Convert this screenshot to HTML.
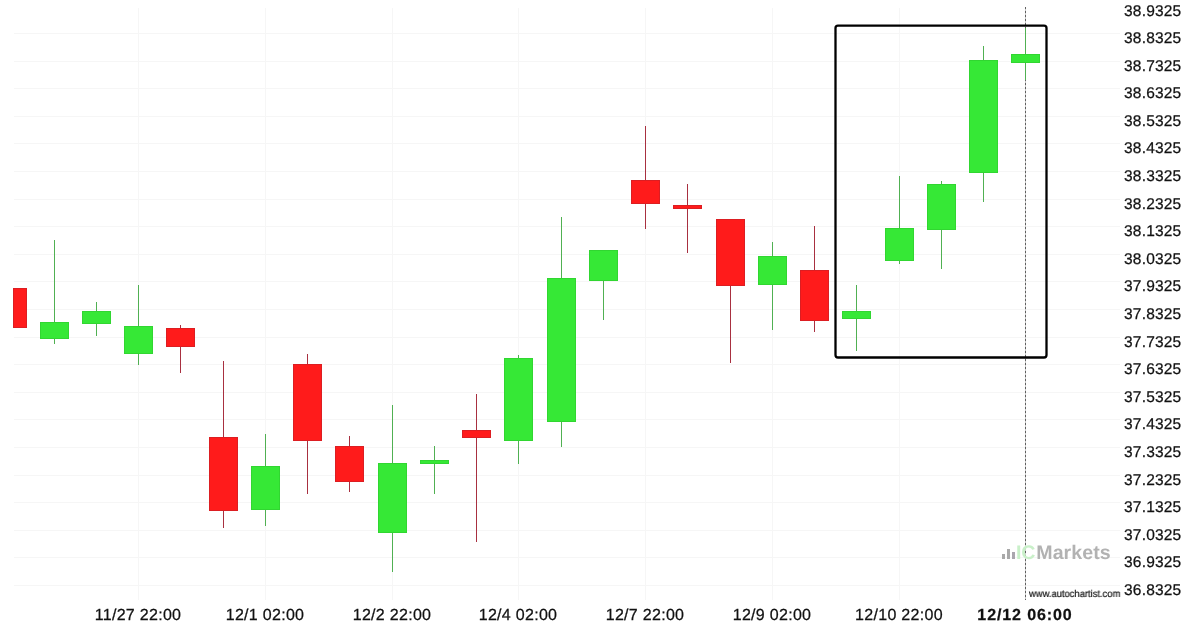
<!DOCTYPE html>
<html><head><meta charset="utf-8"><style>
html,body{margin:0;padding:0;background:#fff;}
body{width:1200px;height:630px;position:relative;overflow:hidden;font-family:"Liberation Sans",sans-serif;color:#111;text-rendering:geometricPrecision;}
svg{position:absolute;left:0;top:0;}
.ya{position:absolute;left:1123.6px;font-size:15.5px;line-height:15.5px;letter-spacing:0.2px;will-change:transform;-webkit-text-stroke:0.25px #111;white-space:nowrap;}
.xa{position:absolute;font-size:16px;line-height:16px;letter-spacing:0.3px;will-change:transform;-webkit-text-stroke:0.25px #111;white-space:nowrap;transform:translateX(-50%);}
.xb{font-weight:bold;letter-spacing:0.9px;}
.wm{position:absolute;left:1029.3px;top:590px;font-size:10px;line-height:10px;color:#111;-webkit-text-stroke:0.2px #111;white-space:nowrap;transform-origin:0 0;transform:scaleX(0.94);will-change:transform;}
.logo{position:absolute;left:1015.6px;top:542.5px;font-size:19.6px;line-height:20px;font-weight:bold;white-space:nowrap;letter-spacing:-0.3px;will-change:transform;}
.logo .mk{margin-left:1.3px;letter-spacing:0.05px;}
.logo .ic{color:#c9f0c9;}
.logo .mk{color:#b2b2b2;}
</style></head><body>

<svg width="1200" height="630" viewBox="0 0 1200 630" shape-rendering="crispEdges">
<rect x="14" y="33" width="1106" height="1" fill="#f6f6f6"/>
<rect x="14" y="61" width="1106" height="1" fill="#f6f6f6"/>
<rect x="14" y="88" width="1106" height="1" fill="#f6f6f6"/>
<rect x="14" y="116" width="1106" height="1" fill="#f6f6f6"/>
<rect x="14" y="143" width="1106" height="1" fill="#f6f6f6"/>
<rect x="14" y="171" width="1106" height="1" fill="#f6f6f6"/>
<rect x="14" y="199" width="1106" height="1" fill="#f6f6f6"/>
<rect x="14" y="226" width="1106" height="1" fill="#f6f6f6"/>
<rect x="14" y="254" width="1106" height="1" fill="#f6f6f6"/>
<rect x="14" y="281" width="1106" height="1" fill="#f6f6f6"/>
<rect x="14" y="309" width="1106" height="1" fill="#f6f6f6"/>
<rect x="14" y="337" width="1106" height="1" fill="#f6f6f6"/>
<rect x="14" y="364" width="1106" height="1" fill="#f6f6f6"/>
<rect x="14" y="392" width="1106" height="1" fill="#f6f6f6"/>
<rect x="14" y="419" width="1106" height="1" fill="#f6f6f6"/>
<rect x="14" y="447" width="1106" height="1" fill="#f6f6f6"/>
<rect x="14" y="475" width="1106" height="1" fill="#f6f6f6"/>
<rect x="14" y="502" width="1106" height="1" fill="#f6f6f6"/>
<rect x="14" y="530" width="1106" height="1" fill="#f6f6f6"/>
<rect x="14" y="557" width="1106" height="1" fill="#f6f6f6"/>
<rect x="14" y="585" width="1106" height="1" fill="#f6f6f6"/>
<rect x="138" y="8" width="1" height="592" fill="#f6f6f6"/>
<rect x="265" y="8" width="1" height="592" fill="#f6f6f6"/>
<rect x="392" y="8" width="1" height="592" fill="#f6f6f6"/>
<rect x="518" y="8" width="1" height="592" fill="#f6f6f6"/>
<rect x="645" y="8" width="1" height="592" fill="#f6f6f6"/>
<rect x="772" y="8" width="1" height="592" fill="#f6f6f6"/>
<rect x="899" y="8" width="1" height="592" fill="#f6f6f6"/>
<rect x="1025" y="7" width="1" height="593" fill="#c8c8c8"/>
<line x1="1025.5" y1="7" x2="1025.5" y2="600" stroke="#606060" stroke-width="1" stroke-dasharray="2,2"/>
<rect x="13.5" y="288.5" width="13" height="39" fill="#ff1b1b" stroke="#dc1e22" stroke-width="1"/>
<rect x="54" y="240" width="1" height="104" fill="#50b052"/>
<rect x="40.5" y="322.5" width="28" height="16" fill="#36e836" stroke="#31d631" stroke-width="1"/>
<rect x="96" y="302" width="1" height="34" fill="#50b052"/>
<rect x="82.5" y="311.5" width="28" height="12" fill="#36e836" stroke="#31d631" stroke-width="1"/>
<rect x="138" y="285" width="1" height="80" fill="#50b052"/>
<rect x="124.5" y="326.5" width="28" height="27" fill="#36e836" stroke="#31d631" stroke-width="1"/>
<rect x="180" y="325" width="1" height="48" fill="#a83040"/>
<rect x="166.5" y="328.5" width="28" height="18" fill="#ff1b1b" stroke="#dc1e22" stroke-width="1"/>
<rect x="223" y="361" width="1" height="167" fill="#a83040"/>
<rect x="209.5" y="437.5" width="28" height="73" fill="#ff1b1b" stroke="#dc1e22" stroke-width="1"/>
<rect x="265" y="434" width="1" height="92" fill="#50b052"/>
<rect x="251.5" y="466.5" width="28" height="43" fill="#36e836" stroke="#31d631" stroke-width="1"/>
<rect x="307" y="354" width="1" height="140" fill="#a83040"/>
<rect x="293.5" y="364.5" width="28" height="76" fill="#ff1b1b" stroke="#dc1e22" stroke-width="1"/>
<rect x="349" y="436" width="1" height="56" fill="#a83040"/>
<rect x="335.5" y="446.5" width="28" height="35" fill="#ff1b1b" stroke="#dc1e22" stroke-width="1"/>
<rect x="392" y="405" width="1" height="167" fill="#50b052"/>
<rect x="378.5" y="463.5" width="28" height="69" fill="#36e836" stroke="#31d631" stroke-width="1"/>
<rect x="434" y="446" width="1" height="48" fill="#50b052"/>
<rect x="420.5" y="460.5" width="28" height="3" fill="#36e836" stroke="#31d631" stroke-width="1"/>
<rect x="476" y="394" width="1" height="148" fill="#a83040"/>
<rect x="462.5" y="430.5" width="28" height="7" fill="#ff1b1b" stroke="#dc1e22" stroke-width="1"/>
<rect x="518" y="355" width="1" height="109" fill="#50b052"/>
<rect x="504.5" y="358.5" width="28" height="82" fill="#36e836" stroke="#31d631" stroke-width="1"/>
<rect x="561" y="217" width="1" height="230" fill="#50b052"/>
<rect x="547.5" y="278.5" width="28" height="143" fill="#36e836" stroke="#31d631" stroke-width="1"/>
<rect x="603" y="250" width="1" height="70" fill="#50b052"/>
<rect x="589.5" y="250.5" width="28" height="30" fill="#36e836" stroke="#31d631" stroke-width="1"/>
<rect x="645" y="126" width="1" height="103" fill="#a83040"/>
<rect x="631.5" y="180.5" width="28" height="23" fill="#ff1b1b" stroke="#dc1e22" stroke-width="1"/>
<rect x="687" y="184" width="1" height="69" fill="#a83040"/>
<rect x="673.5" y="205.5" width="28" height="3" fill="#ff1b1b" stroke="#dc1e22" stroke-width="1"/>
<rect x="730" y="219" width="1" height="144" fill="#a83040"/>
<rect x="716.5" y="219.5" width="28" height="66" fill="#ff1b1b" stroke="#dc1e22" stroke-width="1"/>
<rect x="772" y="242" width="1" height="88" fill="#50b052"/>
<rect x="758.5" y="256.5" width="28" height="28" fill="#36e836" stroke="#31d631" stroke-width="1"/>
<rect x="814" y="226" width="1" height="106" fill="#a83040"/>
<rect x="800.5" y="270.5" width="28" height="50" fill="#ff1b1b" stroke="#dc1e22" stroke-width="1"/>
<rect x="856" y="285" width="1" height="66" fill="#50b052"/>
<rect x="842.5" y="311.5" width="28" height="7" fill="#36e836" stroke="#31d631" stroke-width="1"/>
<rect x="899" y="176" width="1" height="88" fill="#50b052"/>
<rect x="885.5" y="228.5" width="28" height="32" fill="#36e836" stroke="#31d631" stroke-width="1"/>
<rect x="941" y="181" width="1" height="88" fill="#50b052"/>
<rect x="927.5" y="184.5" width="28" height="45" fill="#36e836" stroke="#31d631" stroke-width="1"/>
<rect x="983" y="46" width="1" height="156" fill="#50b052"/>
<rect x="969.5" y="60.5" width="28" height="112" fill="#36e836" stroke="#31d631" stroke-width="1"/>
<rect x="1025" y="28" width="1" height="52" fill="#50b052"/>
<rect x="1011.5" y="54.5" width="28" height="8" fill="#36e836" stroke="#31d631" stroke-width="1"/>
<rect x="835.5" y="25.6" width="211" height="331.9" rx="2.5" ry="2.5" fill="none" stroke="#000" stroke-width="2.3" shape-rendering="geometricPrecision"/>
<rect x="1002" y="554" width="2.5" height="4.5" fill="#a9a9a9"/>
<rect x="1007" y="548.5" width="2.7" height="10" fill="#a9a9a9"/>
<rect x="1012" y="551.5" width="2.5" height="7" fill="#aaa6ae"/>
</svg>
<div class="ya" style="top:4.18px">38.9325</div>
<div class="ya" style="top:30.88px">38.8325</div>
<div class="ya" style="top:58.88px">38.7325</div>
<div class="ya" style="top:85.88px">38.6325</div>
<div class="ya" style="top:113.88px">38.5325</div>
<div class="ya" style="top:140.88px">38.4325</div>
<div class="ya" style="top:168.88px">38.3325</div>
<div class="ya" style="top:196.88px">38.2325</div>
<div class="ya" style="top:223.88px">38.1325</div>
<div class="ya" style="top:251.88px">38.0325</div>
<div class="ya" style="top:278.88px">37.9325</div>
<div class="ya" style="top:306.88px">37.8325</div>
<div class="ya" style="top:334.88px">37.7325</div>
<div class="ya" style="top:361.88px">37.6325</div>
<div class="ya" style="top:389.88px">37.5325</div>
<div class="ya" style="top:416.88px">37.4325</div>
<div class="ya" style="top:444.88px">37.3325</div>
<div class="ya" style="top:472.88px">37.2325</div>
<div class="ya" style="top:499.88px">37.1325</div>
<div class="ya" style="top:527.88px">37.0325</div>
<div class="ya" style="top:554.88px">36.9325</div>
<div class="ya" style="top:582.88px">36.8325</div>
<div class="xa" style="left:137.50px;top:608.46px">11/27 22:00</div>
<div class="xa" style="left:264.50px;top:608.46px">12/1 02:00</div>
<div class="xa" style="left:391.50px;top:608.46px">12/2 22:00</div>
<div class="xa" style="left:517.50px;top:608.46px">12/4 02:00</div>
<div class="xa" style="left:644.50px;top:608.46px">12/7 22:00</div>
<div class="xa" style="left:771.50px;top:608.46px">12/9 02:00</div>
<div class="xa" style="left:898.50px;top:608.46px">12/10 22:00</div>
<div class="xa xb" style="left:1025.00px;top:608.16px">12/12 06:00</div>
<div class="wm">www.autochartist.com</div>
<div class="logo"><span class="ic">IC</span><span class="mk">Markets</span></div>
</body></html>
